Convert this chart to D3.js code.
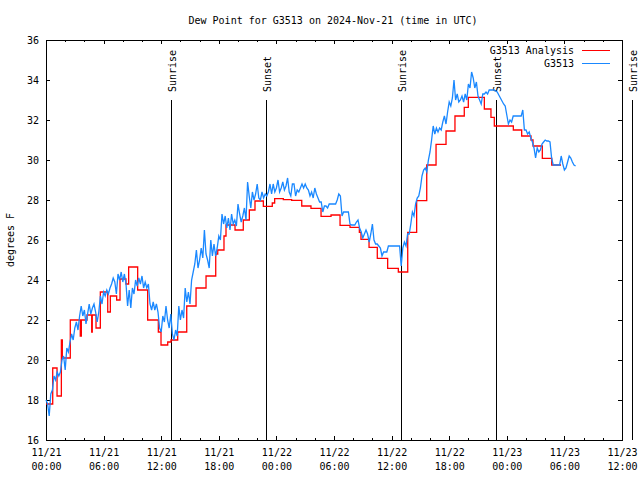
<!DOCTYPE html>
<html><head><meta charset="utf-8">
<script src="https://cdn.jsdelivr.net/npm/d3@7"></script>
<style>
body{margin:0;background:#fff}
text{font-family:"DejaVu Sans Mono","Liberation Mono",monospace;font-size:10px;fill:#000}
</style>
</head><body>
<svg id="chart" width="640" height="480"></svg>
<script>
// ---------- data ----------
const titleText = "Dew Point for G3513 on 2024-Nov-21 (time in UTC)";
const yLabelText = "degrees F";
const startTime = "2024-11-21T00:00:00Z";
const endTime = "2024-11-23T12:00:00Z";
const yTicks = [16, 18, 20, 22, 24, 26, 28, 30, 32, 34, 36];
const xMajorHours = [0, 6, 12, 18, 24, 30, 36, 42, 48, 54, 60];
const xMinorHours = [2, 4, 8, 10, 14, 16, 20, 22, 26, 28, 32, 34, 38, 40, 44, 46, 50, 52, 56, 58];
const seriesNames = ["G3513 Analysis", "G3513"];

// observations (G3513), one value every 10 minutes from startTime
const obsStepMinutes = 10;
const obsValues = [
 18.0,17.8,17.2,18.3,18.5,19.2,19.0,19.4,19.2,19.4,
 20.0,20.2,19.5,20.6,20.4,20.9,21.3,21.0,21.6,21.9,
 21.5,22.2,22.7,22.2,22.5,21.8,22.3,22.8,22.3,22.6,
 22.8,22.4,21.9,22.4,23.2,22.8,23.4,23.2,23.5,23.3,
 23.6,23.8,24.1,23.9,23.3,24.3,24.0,24.4,23.9,24.3,
 23.8,22.7,23.5,22.6,23.6,23.3,24.0,23.7,24.1,23.8,
 24.2,23.6,23.9,23.6,23.8,22.8,22.5,22.9,22.5,22.8,
 22.4,21.6,21.4,22.2,21.9,22.7,22.0,21.6,22.3,21.3,
 21.0,21.5,21.2,22.7,22.0,22.5,22.1,23.6,22.9,23.4,
 22.8,24.0,24.4,24.8,25.5,24.6,25.0,25.6,25.1,26.5,
 25.3,25.0,24.6,26.0,25.2,25.8,25.2,25.6,26.2,26.0,
 27.3,26.8,27.2,26.6,27.1,26.5,27.3,26.8,27.0,26.7,
 27.8,27.3,26.9,27.2,27.6,27.0,28.9,28.2,27.6,28.4,
 28.0,28.3,28.8,28.1,28.0,28.4,28.1,28.3,28.2,28.4,
 28.8,28.3,28.8,28.4,28.6,29.0,28.4,28.6,28.9,28.5,
 28.7,29.1,28.4,28.2,28.8,28.8,28.2,28.5,28.4,28.6,
 28.8,28.6,28.8,28.6,28.5,28.2,28.4,28.1,28.6,28.3,
 28.1,27.9,27.9,27.4,27.7,27.7,27.6,27.8,27.8,27.8,
 27.8,27.8,28.0,28.3,28.2,27.2,27.4,27.4,27.4,27.4,
 26.8,26.75,26.75,26.75,26.9,27.0,26.6,26.4,26.1,26.3,
 26.5,26.3,25.9,26.3,26.8,26.0,25.8,25.8,25.7,25.6,
 25.2,25.4,25.4,25.4,25.7,25.7,25.7,25.7,25.7,25.7,
 25.7,25.7,24.7,25.6,25.9,25.7,26.3,26.3,26.8,27.4,
 27.2,27.8,28.1,28.2,28.6,29.2,29.5,29.6,29.4,30.0,
 30.4,31.0,31.7,31.3,31.6,31.4,31.6,31.5,31.9,32.2,
 31.8,32.4,32.9,32.7,33.1,34.0,33.0,33.3,32.9,33.0,
 33.2,32.9,33.3,33.0,33.8,33.6,34.4,34.1,33.6,33.9,
 33.2,33.0,32.8,33.3,33.3,33.4,33.3,33.5,33.5,33.5,
 33.5,33.45,33.4,33.25,33.1,32.95,32.8,32.7,32.25,31.8,
 32.0,31.9,32.2,32.2,32.2,32.2,32.2,32.2,32.5,31.5,
 31.5,31.3,31.4,31.1,30.9,30.6,30.1,30.6,30.4,30.5,
 30.8,30.9,31.0,30.95,30.95,30.9,30.1,29.75,29.75,29.75,
 29.75,29.75,30.2,29.8,29.5,29.6,29.9,30.2,30.1,29.9,
 29.75,29.7
];

// analysis (G3513 Analysis): step changes, hours after startTime
const anaHours = [0,0.70,1.15,1.60,1.70,2.53,3.57,3.68,4.27,4.76,4.82,5.21,5.66,6.43,6.70,7.36,7.71,8.33,8.61,9.55,
 10.59,11.70,11.98,12.68,13.02,13.72,14.66,15.63,16.67,17.68,17.89,18.54,18.75,19.69,20.55,21.18,21.77,22.64,23.57,23.82,
 24.72,25.59,26.64,27.60,28.65,29.69,30.63,31.67,32.64,32.81,33.65,34.51,35.59,36.70,37.68,38.61,39.66,40.63,41.67,42.60,
 43.57,43.99,45.66,46.35,46.70,48.68,49.55,50.52,50.73,51.70,52.68,53.65];
const anaValues = [17.8,19.6,18.2,21.0,20.1,22.0,21.2,22.0,22.25,21.4,22.25,21.6,23.4,22.4,23.2,23.0,24.05,23.8,24.65,23.5,
 22.0,21.4,20.75,20.9,21.0,21.4,22.7,23.6,24.2,25.3,25.5,26.2,26.75,26.5,27.0,27.5,27.95,27.68,27.85,28.07,
 28.02,27.98,27.7,27.58,27.18,27.25,26.73,26.63,26.38,26.03,25.63,25.08,24.58,24.4,26.38,27.97,29.75,30.78,31.45,32.2,
 32.63,33.13,32.55,32.13,31.7,31.5,31.2,31.0,30.7,30.08,29.75,29.75];

// sun events
const sunTimes = ["2024-11-21T13:01:00Z","2024-11-21T22:54:00Z","2024-11-22T12:59:00Z","2024-11-22T22:53:00Z","2024-11-23T13:02:00Z"];
const sunLabels = ["Sunrise","Sunset","Sunrise","Sunset","Sunrise"];

// ---------- chart ----------
const W = 640, H = 480;
const M = {left: 46, right: 18, top: 40, bottom: 40};
const t0 = new Date(startTime), t1 = new Date(endTime);
const hr = h => new Date(t0.getTime() + h * 3600e3);

const x = d3.scaleUtc().domain([t0, t1]).range([M.left, W - M.right]);
const y = d3.scaleLinear().domain([16, 36]).range([H - M.bottom, M.top]);

const svg = d3.select("#chart");
const colRed = "#ff0000", colBlue = "#1a88ff";

// title
svg.append("text").attr("x", 333).attr("y", 24).attr("text-anchor", "middle").text(titleText);
// y label
svg.append("text").attr("transform", "translate(14,240) rotate(-90)").attr("text-anchor", "middle").text(yLabelText);

// axes
const fmtD = d3.utcFormat("%m/%d"), fmtT = d3.utcFormat("%H:%M");
const gB = svg.append("g").attr("transform", `translate(0,${H - M.bottom})`)
  .call(d3.axisBottom(x).tickValues(xMajorHours.map(hr)).tickSize(-4).tickPadding(9).tickFormat(fmtD));
gB.selectAll(".tick text").each(function(d) {
  const t = d3.select(this);
  t.append("tspan").attr("x", 0).attr("dy", "14").text(fmtT(d));
});
svg.append("g").attr("transform", `translate(0,${H - M.bottom})`)
  .call(d3.axisBottom(x).tickValues(xMinorHours.map(hr)).tickSize(-2).tickFormat(""));
svg.append("g").attr("transform", `translate(0,${M.top})`)
  .call(d3.axisTop(x).tickValues(xMajorHours.map(hr)).tickSize(-4).tickFormat(""));
svg.append("g").attr("transform", `translate(0,${M.top})`)
  .call(d3.axisTop(x).tickValues(xMinorHours.map(hr)).tickSize(-2).tickFormat(""));
svg.append("g").attr("transform", `translate(${M.left},0)`)
  .call(d3.axisLeft(y).tickValues(yTicks).tickSize(-4).tickPadding(7).tickFormat(d3.format("d")));
svg.append("g").attr("transform", `translate(${W - M.right},0)`)
  .call(d3.axisRight(y).tickValues(yTicks).tickSize(-4).tickFormat(""));
svg.selectAll(".domain").remove();
svg.selectAll(".tick line").attr("stroke", "#000").attr("shape-rendering", "crispEdges");
svg.selectAll(".tick text").attr("font-family", null).attr("font-size", null).attr("fill", "#000");

// frame
svg.append("rect").attr("x", M.left + 0.5).attr("y", M.top + 0.5)
  .attr("width", W - M.left - M.right).attr("height", H - M.top - M.bottom)
  .attr("fill", "none").attr("stroke", "#000").attr("shape-rendering", "crispEdges");

// sun lines
const sun = svg.append("g");
sunTimes.forEach((s, i) => {
  const sx = Math.round(x(new Date(s))) + 0.5;
  sun.append("line").attr("x1", sx).attr("x2", sx).attr("y1", 100).attr("y2", H - M.bottom)
    .attr("stroke", "#000").attr("shape-rendering", "crispEdges");
  sun.append("text").attr("transform", `translate(${sx + 4.5},92) rotate(-90)`).text(sunLabels[i]);
});

// analysis line (steps)
const anaData = anaHours.map((h, i) => ({t: hr(h), v: anaValues[i]}));
svg.append("path").datum(anaData)
  .attr("fill", "none").attr("stroke", colRed).attr("stroke-width", 1.3)
  .attr("d", d3.line().x(d => x(d.t)).y(d => y(d.v)).curve(d3.curveStepAfter));

// observation line
const obsData = obsValues.map((v, i) => ({t: hr(i * obsStepMinutes / 60), v}));
svg.append("path").datum(obsData)
  .attr("fill", "none").attr("stroke", colBlue).attr("stroke-width", 1.3)
  .attr("d", d3.line().x(d => x(d.t)).y(d => y(d.v)));

// legend
const leg = svg.append("g");
[[seriesNames[0], colRed, 50], [seriesNames[1], colBlue, 63]].forEach(([name, c, ly]) => {
  leg.append("text").attr("x", 574).attr("y", ly + 4).attr("text-anchor", "end").text(name);
  leg.append("line").attr("x1", 582).attr("x2", 610).attr("y1", ly + 0.5).attr("y2", ly + 0.5)
    .attr("stroke", c).attr("stroke-width", 1).attr("shape-rendering", "crispEdges");
});
</script>
</body></html>
